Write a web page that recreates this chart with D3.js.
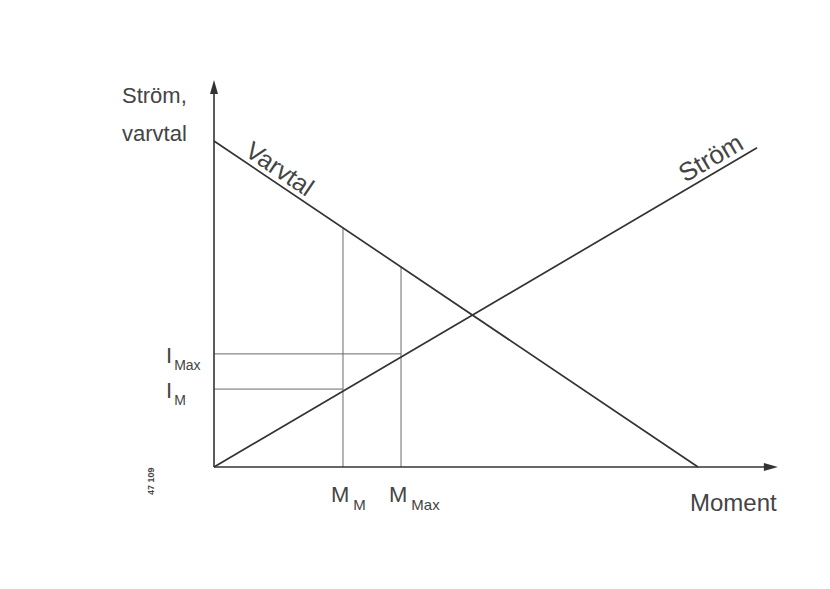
<!DOCTYPE html>
<html>
<head>
<meta charset="utf-8">
<script src="https://cdn.jsdelivr.net/npm/d3@7"></script>
<style>
  body { margin: 0; background: #fff; }
  text { font-family: "Liberation Sans", Arial, sans-serif; fill: #444; }
</style>
</head>
<body>
<script>
var svgWidth = 830;
var svgHeight = 589;

// curves (moment -> value)
var varvtalMoment = [0, 10];
var varvtalValue = [10, 0];
var stromMoment = [0, 11.22];
var stromValue = [0, 9.79];

// marked operating points
var momentLabels = ["M", "M"];
var momentSubs = ["M", "Max"];
var momentValues = [2.665, 3.864];
var currentLabels = ["I", "I"];
var currentSubs = ["M", "Max"];
var currentValues = [2.39, 3.47];

var axisMax = { x: 11.65, y: 11.87 };

var svg = d3.select("body").append("svg")
    .attr("width", svgWidth)
    .attr("height", svgHeight);

var x = d3.scaleLinear().domain([0, 10]).range([214, 698]);
var y = d3.scaleLinear().domain([0, 10]).range([467, 141]);

var line = d3.line().x(d => x(d[0])).y(d => y(d[1]));

// helper lines (thin, grey)
var helpers = svg.append("g")
    .attr("stroke", "#6a6a6a")
    .attr("stroke-width", 1)
    .attr("fill", "none");

momentValues.forEach(function(m) {
    var top = varvtalValue[0] + (varvtalValue[1] - varvtalValue[0]) * m / varvtalMoment[1];
    helpers.append("path").attr("d", line([[m, 0], [m, top]]));
});
currentValues.forEach(function(c, i) {
    helpers.append("path").attr("d", line([[0, c], [momentValues[i], c]]));
});

// axes
var axes = svg.append("g").attr("stroke", "#333").attr("stroke-width", 1.6);
axes.append("path").attr("d", line([[0, 0], [axisMax.x - 0.2, 0]]));
axes.append("path").attr("d", line([[0, 0], [0, axisMax.y - 0.3]]));

var xTip = x(axisMax.x), yTip = y(axisMax.y);
svg.append("path")
    .attr("d", `M${xTip},${y(0)} L${xTip - 14},${y(0) - 4} L${xTip - 14},${y(0) + 4} Z`)
    .attr("fill", "#333");
svg.append("path")
    .attr("d", `M${x(0)},${yTip} L${x(0) - 4},${yTip + 14} L${x(0) + 4},${yTip + 14} Z`)
    .attr("fill", "#333");

// main curves
var curves = svg.append("g").attr("stroke", "#333").attr("stroke-width", 1.7).attr("fill", "none");
curves.append("path").attr("d", line(varvtalMoment.map((m, i) => [m, varvtalValue[i]])));
curves.append("path").attr("d", line(stromMoment.map((m, i) => [m, stromValue[i]])));

// labels along the curves
function angleOf(ms, vs) {
    return Math.atan2(y(vs[1]) - y(vs[0]), x(ms[1]) - x(ms[0])) * 180 / Math.PI;
}
var vAng = angleOf(varvtalMoment, varvtalValue);
var sAng = angleOf(stromMoment, stromValue);

var vStart = 0.55;
svg.append("text")
    .attr("transform", `translate(${x(vStart)},${y(10 - vStart)}) rotate(${vAng})`)
    .attr("dy", -5)
    .style("font-size", "25px")
    .text("Varvtal");

var sStart = 9.8;
svg.append("text")
    .attr("transform", `translate(${x(sStart)},${y(stromValue[1] / stromMoment[1] * sStart)}) rotate(${sAng})`)
    .attr("dy", -6)
    .style("font-size", "26px")
    .text("Ström");

// axis titles
svg.append("text").attr("x", 122).attr("y", 103).style("font-size", "22px").text("Ström,");
svg.append("text").attr("x", 122).attr("y", 141).style("font-size", "22px").text("varvtal");
svg.append("text").attr("x", 690).attr("y", 511).style("font-size", "24px").text("Moment");

// moment tick labels
momentValues.forEach(function(m, i) {
    var t = svg.append("text")
        .attr("x", x(m) - 12)
        .attr("y", 502)
        .style("font-size", "22px");
    t.append("tspan").text(momentLabels[i]);
    t.append("tspan").attr("dx", 4).attr("dy", 8).style("font-size", "15px").text(momentSubs[i]);
});

// current tick labels
currentValues.forEach(function(c, i) {
    var t = svg.append("text")
        .attr("x", 166)
        .attr("y", y(c) + 9)
        .style("font-size", "22px");
    t.append("tspan").text(currentLabels[i]);
    t.append("tspan").attr("dx", 2).attr("dy", 7).style("font-size", "14px").text(currentSubs[i]);
});

// figure number
svg.append("text")
    .attr("transform", "translate(154,495) rotate(-90)")
    .style("font-size", "9px")
    .style("font-weight", "bold")
    .text("47 109");
</script>
</body>
</html>
